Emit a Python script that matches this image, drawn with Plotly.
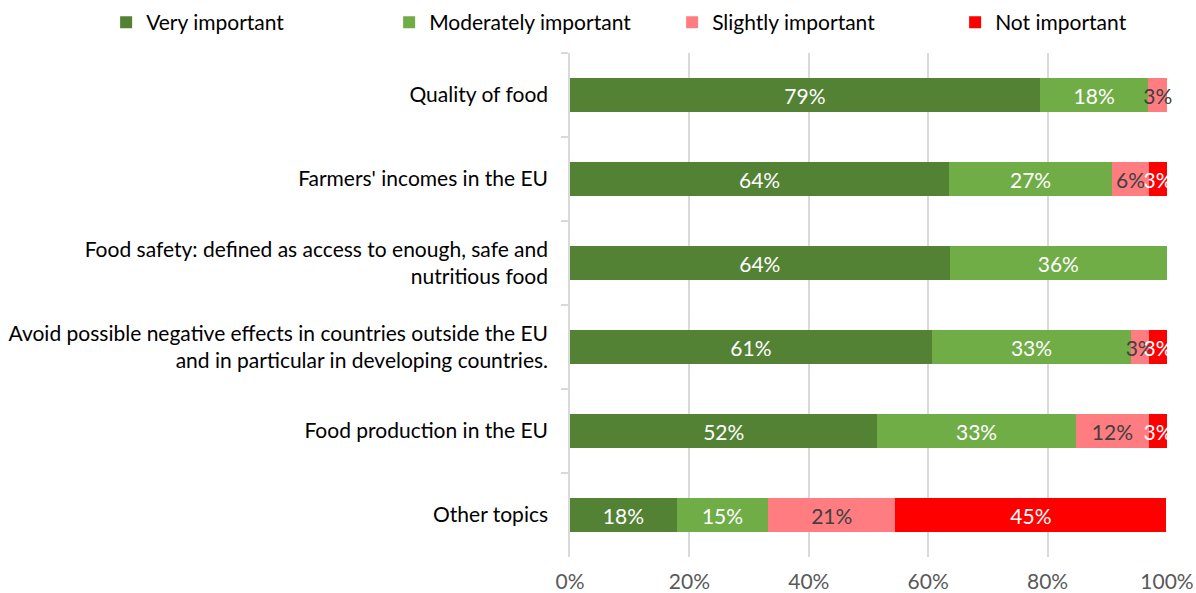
import plotly.graph_objects as go

topics = [
    "Quality of food",
    "Farmers' incomes in the EU",
    "Food safety: defined as access to enough, safe and<br>nutritious food",
    "Avoid possible negative effects in countries outside the EU<br>and in particular in developing countries.",
    "Food production in the EU",
    "Other topics",
]

very_important = [78.7, 63.5, 63.6, 60.6, 51.5, 17.9]
moderately_important = [18.2, 27.3, 36.4, 33.4, 33.2, 15.3]
slightly_important = [3.1, 6.2, 0, 3.0, 12.3, 21.3]
not_important = [0, 3.0, 0, 3.0, 3.0, 45.4]

series = [
    ("Very important", very_important, "#548235", "white"),
    ("Moderately important", moderately_important, "#70AD47", "white"),
    ("Slightly important", slightly_important, "#FF7C80", "#404040"),
    ("Not important", not_important, "#FF0000", "white"),
]

FONT = "Lato"
FS = 21

fig = go.Figure()
for name, vals, color, tcolor in series:
    fig.add_trace(go.Bar(
        name=name,
        y=topics,
        x=vals,
        orientation="h",
        marker=dict(color=color, line=dict(width=0)),
        text=[f"{int(v + 0.5)}%" if v > 0 else "" for v in vals],
        textposition="inside",
        insidetextanchor="middle",
        textangle=0,
        textfont=dict(color=tcolor, size=FS, family=FONT),
        cliponaxis=False,
    ))

fig.update_layout(
    barmode="stack",
    bargap=0.6,
    width=1196,
    height=593,
    margin=dict(l=570, r=29, t=53, b=36, autoexpand=False),
    plot_bgcolor="white",
    paper_bgcolor="white",
    font=dict(family=FONT, size=FS, color="#000000"),
    uniformtext=dict(mode="show", minsize=FS),
    legend=dict(
        orientation="h",
        x=-0.777, xref="paper",
        xanchor="left",
        y=1.101, yref="paper",
        yanchor="top",
        font=dict(size=FS, color="#000000"),
        itemwidth=30,
        entrywidth=238,
        traceorder="normal",
    ),
    xaxis=dict(
        range=[0, 100],
        tickvals=[0, 20, 40, 60, 80, 100],
        ticktext=["0%", "20%", "40%", "60%", "80%", "100%"],
        showgrid=True,
        gridcolor="#D9D9D9",
        gridwidth=1.5,
        zeroline=False,
        showline=False,
        tickfont=dict(color="#595959", size=FS),
        ticks="",
        ticklabelstandoff=10,
        ticklabeloverflow="allow",
        automargin=False,
    ),
    yaxis=dict(
        autorange="reversed",
        showline=True,
        linecolor="#D9D9D9",
        linewidth=1.5,
        ticks="outside",
        tickson="boundaries",
        ticklen=7,
        tickcolor="#D9D9D9",
        tickwidth=1.5,
        showgrid=False,
        ticklabelstandoff=16,
        tickfont=dict(color="#000000", size=FS),
        automargin=False,
    ),
)

fig.write_html(
    "out.html",
    config={"displayModeBar": False},
    post_script="document.body.style.margin='0';",
)
